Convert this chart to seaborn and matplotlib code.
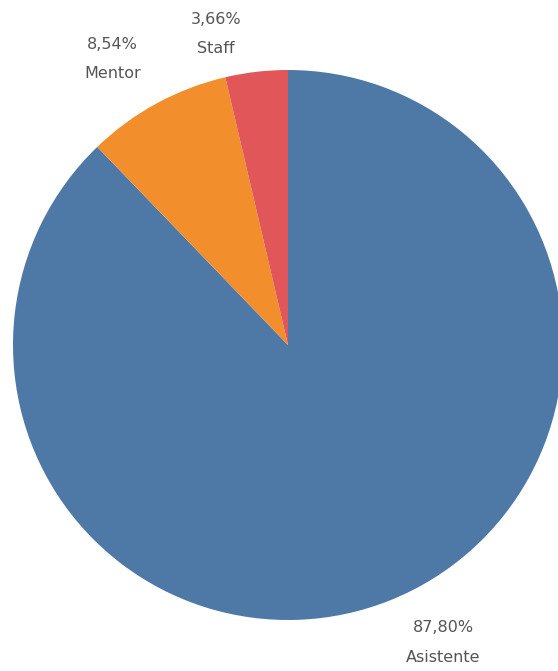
"""
Pie chart of attendees by role.
"""
import matplotlib
matplotlib.use("Agg")
import numpy as np
import matplotlib.pyplot as plt
import seaborn as sns

sns.set_theme(style="white")
plt.rcParams['font.family'] = ['DejaVu Sans']

# Data
roles = ["Asistente", "Mentor", "Staff"]
shares = [87.80, 8.54, 3.66]
colors = ["#4e79a7", "#f28e2b", "#e15759"]

# label placement relative to each wedge's mid angle (deg shift, radius)
label_shift = [5.6, 3.0, 6.5]
label_dist = [1.22, 1.22, 1.16]

W, H = 558, 671
fig = plt.figure(figsize=(W / 100, H / 100), dpi=100)
# pie centre at (288, 345) px, radius ~275 px
cx, cy, r = 288, 345, 275
ax = fig.add_axes([(cx - r) / W, (H - cy - r) / H, 2 * r / W, 2 * r / H])

wedges, _ = ax.pie(
    shares,
    colors=colors,
    startangle=90,
    counterclock=False,
    wedgeprops=dict(linewidth=0),
)

for w, name, v, sh, d in zip(wedges, roles, shares, label_shift, label_dist):
    ang = np.deg2rad((w.theta1 + w.theta2) / 2 + sh)
    ax.text(d * np.cos(ang), d * np.sin(ang),
            f"{v:.2f}%".replace(".", ",") + f"\n{name}",
            ha="center", va="center", fontsize=11.5, color="#555555",
            linespacing=2.2)

ax.set_xlim(-1, 1)
ax.set_ylim(-1, 1)
ax.axis("off")

fig.savefig("out.png", dpi=100)
